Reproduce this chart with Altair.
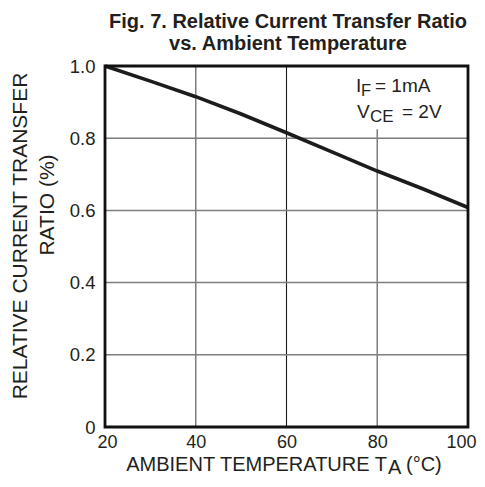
import altair as alt
import pandas as pd

# ---- data ----
temps = [20, 30, 40, 50, 60, 70, 80, 90, 100]
ctr = [1.0, 0.958, 0.915, 0.867, 0.815, 0.762, 0.709, 0.66, 0.608]
x_ticks = [20, 40, 60, 80, 100]
y_ticks = [0, 0.2, 0.4, 0.6, 0.8, 1.0]
v_grid_gray = [40, 80]
v_grid_dark = [60]
h_grid = [0.2, 0.4, 0.6, 0.8]
note_box_x = [65, 100]
note_box_y = [0.825, 1.0]
title_lines = ["Fig. 7. Relative Current Transfer Ratio", "vs. Ambient Temperature"]
y_title_lines = ["RELATIVE CURRENT TRANSFER", "RATIO (%)"]
x_title_parts = ["AMBIENT TEMPERATURE T", "A", "(°C)"]
note1 = ["I", "F", "= 1mA"]
note2 = ["V", "CE", "= 2V"]

W, H = 363, 361
FONT = "Liberation Sans"
INK = "#231f20"

xs = alt.Scale(domain=[20, 100], nice=False, zero=False)
ys = alt.Scale(domain=[0, 1], nice=False)

curve = pd.DataFrame({"t": temps, "r": ctr})

line = alt.Chart(curve).mark_line(color="#1c1c1c", strokeWidth=3.6).encode(
    x=alt.X("t:Q", scale=xs, axis=alt.Axis(
        values=x_ticks, title=None, grid=False, domain=False, ticks=False,
        labelFont=FONT, labelFontSize=18, labelColor=INK, labelPadding=6,
        labelFlush=True, labelFlushOffset=8)),
    y=alt.Y("r:Q", scale=ys, axis=alt.Axis(
        values=y_ticks, title=None, grid=False, domain=False, ticks=False,
        labelFont=FONT, labelFontSize=18.5, labelColor=INK, labelPadding=10,
        labelExpr="datum.value == 0 ? '0' : format(datum.value, '.1f')")),
)

vg_gray = alt.Chart(pd.DataFrame({"v": v_grid_gray})).mark_rule(
    color="#7d7d7d", strokeWidth=1.5).encode(x=alt.X("v:Q", scale=xs))
vg_dark = alt.Chart(pd.DataFrame({"v": v_grid_dark})).mark_rule(
    color="#1a1a1a", strokeWidth=1.1).encode(x=alt.X("v:Q", scale=xs))
hg = alt.Chart(pd.DataFrame({"h": h_grid})).mark_rule(
    color="#7d7d7d", strokeWidth=1.5).encode(y=alt.Y("h:Q", scale=ys))

box = alt.Chart(pd.DataFrame({"x1": [note_box_x[0]], "x2": [note_box_x[1]],
                              "y1": [note_box_y[0]], "y2": [note_box_y[1]]})
                ).mark_rect(color="white").encode(
    x=alt.X("x1:Q", scale=xs), x2="x2:Q",
    y=alt.Y("y1:Q", scale=ys), y2="y2:Q")

frame = alt.Chart(pd.DataFrame({"x1": [20], "x2": [100], "y1": [0], "y2": [1]})
                  ).mark_rect(filled=False, stroke="#111111", strokeWidth=2.8).encode(
    x=alt.X("x1:Q", scale=xs), x2="x2:Q",
    y=alt.Y("y1:Q", scale=ys), y2="y2:Q")


def txt(s, x, y, size=20, bold=False, align="left", angle=None, baseline="alphabetic"):
    kw = dict(font=FONT, fontSize=size, color=INK, align=align, baseline=baseline,
              fontWeight="bold" if bold else "normal")
    if angle is not None:
        kw["angle"] = angle
    return alt.Chart(pd.DataFrame({"s": [s]})).mark_text(**kw).encode(
        text="s:N", x=alt.value(x), y=alt.value(y))


texts = [
    txt(title_lines[0], 183, -38, size=20, bold=True, align="center"),
    txt(title_lines[1], 183, -16, size=20, bold=True, align="center"),
    txt(y_title_lines[0], -78, 170, size=21, align="center", angle=270),
    txt(y_title_lines[1], -51, 139, size=21, align="center", angle=270),
    txt(x_title_parts[0], 282, 405, size=20, align="right"),
    txt(x_title_parts[1], 283, 408, size=20, align="left"),
    txt(x_title_parts[2], 301, 405, size=20, align="left"),
    txt(note1[0], 251, 26, size=19),
    txt(note1[1], 256, 30, size=16.5),
    txt(note1[2], 270, 26, size=19),
    txt(note2[0], 252, 52, size=19),
    txt(note2[1], 265, 56, size=17),
    txt(note2[2], 297, 52, size=19),
]

chart = alt.layer(vg_gray, vg_dark, hg, box, line, frame, *texts).properties(
    width=W, height=H,
    autosize=alt.AutoSizeParams(type="none"),
    padding={"left": 97, "top": 58, "right": 9, "bottom": 52},
).configure_view(stroke=None).configure(background="white")

chart.save("out.html", embed_options={"renderer": "svg", "actions": False})
